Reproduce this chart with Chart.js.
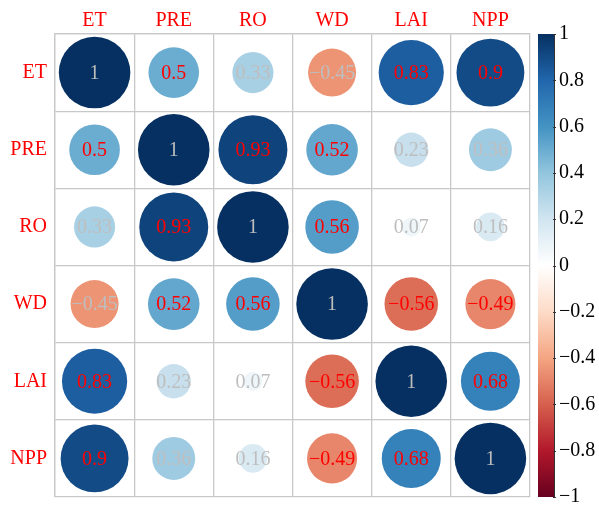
<!DOCTYPE html>
<html lang="en">
<head>
  <meta charset="UTF-8">
  <title>Correlation matrix</title>
  <style>
    body { margin: 0; padding: 0; background: #fff; }
    #wrap { width: 599px; height: 517px; }
  </style>
</head>
<body>
  <div id="wrap"><canvas id="corrChart"></canvas></div>

  <script src="https://cdn.jsdelivr.net/npm/chart.js"></script>
  <script>
    // variables and correlation rows
    const vars = ['ET', 'PRE', 'RO', 'WD', 'LAI', 'NPP'];
    const rowET  = [1, 0.5, 0.33, -0.45, 0.83, 0.9];
    const rowPRE = [0.5, 1, 0.93, 0.52, 0.23, 0.36];
    const rowRO  = [0.33, 0.93, 1, 0.56, 0.07, 0.16];
    const rowWD  = [-0.45, 0.52, 0.56, 1, -0.56, -0.49];
    const rowLAI = [0.83, 0.23, 0.07, -0.56, 1, 0.68];
    const rowNPP = [0.9, 0.36, 0.16, -0.49, 0.68, 1];
    const rows = [rowET, rowPRE, rowRO, rowWD, rowLAI, rowNPP];

    // colour bar ticks
    const barTicks = [-1, -0.8, -0.6, -0.4, -0.2, 0, 0.2, 0.4, 0.6, 0.8, 1];

    // RdBu palette, -1 .. 1
    const palette = ['#67001F', '#B2182B', '#D6604D', '#F4A582', '#FDDBC7', '#FFFFFF',
                     '#D1E5F0', '#92C5DE', '#4393C3', '#2166AC', '#053061'];

    const serif = "'Liberation Serif', 'Times New Roman', serif";

    function hexToRgb(h) {
      return [parseInt(h.substr(1, 2), 16), parseInt(h.substr(3, 2), 16), parseInt(h.substr(5, 2), 16)];
    }

    function colorFor(v) {
      const pos = (v + 1) / 2 * (palette.length - 1);
      const i = Math.min(Math.floor(pos), palette.length - 2);
      const t = pos - i;
      const a = hexToRgb(palette[i]);
      const b = hexToRgb(palette[i + 1]);
      const c = a.map((x, k) => Math.round(x + (b[k] - x) * t));
      return `rgb(${c[0]},${c[1]},${c[2]})`;
    }

    function fmt(v) {
      const s = String(Number(v.toFixed(2)));
      return s.replace('-', '\u2212');
    }

    // build points, one per cell
    const points = [];
    rows.forEach((row, i) => {
      row.forEach((v, j) => {
        points.push({ x: vars[j], y: vars[i], v: v });
      });
    });

    // numbers inside the circles
    const numberLabels = {
      id: 'numberLabels',
      afterDatasetsDraw(chart) {
        const ctx = chart.ctx;
        const meta = chart.getDatasetMeta(0);
        ctx.save();
        ctx.font = `20px ${serif}`;
        ctx.textAlign = 'center';
        ctx.textBaseline = 'middle';
        meta.data.forEach((el, k) => {
          const v = points[k].v;
          const a = Math.abs(v);
          ctx.fillStyle = (a >= 0.47 && a < 1) ? '#FF0000' : '#BEBEBE';
          ctx.fillText(fmt(v), el.x, el.y + 1);
        });
        ctx.restore();
      }
    };

    // gradient colour bar along the right axis
    const colorBar = {
      id: 'colorBar',
      afterDraw(chart) {
        const ctx = chart.ctx;
        const sc = chart.scales.bar;
        const x0 = chart.chartArea.right + 8;
        const w = 16;
        const top = sc.getPixelForValue(1);
        const bottom = sc.getPixelForValue(-1);
        const grad = ctx.createLinearGradient(0, bottom, 0, top);
        palette.forEach((c, k) => grad.addColorStop(k / (palette.length - 1), c));
        ctx.save();
        ctx.fillStyle = grad;
        ctx.fillRect(x0, top, w, bottom - top);
        ctx.strokeStyle = '#333';
        ctx.lineWidth = 1;
        ctx.beginPath();
        ctx.moveTo(x0 + w + 0.5, top);
        ctx.lineTo(x0 + w + 0.5, bottom);
        barTicks.forEach(t => {
          const y = Math.round(sc.getPixelForValue(t)) + 0.5;
          ctx.moveTo(x0 + w - 1, y);
          ctx.lineTo(x0 + w + 2, y);
        });
        ctx.stroke();
        ctx.restore();
      }
    };

    new Chart(document.getElementById('corrChart'), {
      type: 'scatter',
      data: {
        datasets: [{
          data: points,
          clip: false,
          showLine: false,
          pointBorderWidth: 0,
          pointBackgroundColor: c => colorFor(c.raw.v),
          pointRadius: c => {
            const area = c.chart.chartArea;
            if (!area) return 0;
            const cell = (area.right - area.left) / vars.length;
            return 0.452 * cell * Math.sqrt(Math.abs(c.raw.v));
          }
        }]
      },
      options: {
        responsive: true,
        maintainAspectRatio: false,
        animation: false,
        events: [],
        layout: { padding: { top: 0, left: 0, right: 0, bottom: 9 } },
        plugins: {
          legend: { display: false },
          tooltip: { enabled: false }
        },
        scales: {
          x: {
            type: 'category',
            labels: vars,
            position: 'top',
            offset: true,
            grid: { offset: true, color: '#C8C8C8', lineWidth: 1.3, drawTicks: false },
            border: { color: '#C8C8C8', width: 1.3 },
            ticks: { color: '#FF0000', font: { family: serif, size: 20 }, padding: 1 },
            afterFit: s => { s.height = 34; }
          },
          y: {
            type: 'category',
            labels: vars,
            position: 'left',
            offset: true,
            grid: { offset: true, color: '#C8C8C8', lineWidth: 1.3, drawTicks: false },
            border: { color: '#C8C8C8', width: 1.3 },
            ticks: { color: '#FF0000', font: { family: serif, size: 20 }, padding: 8 },
            afterFit: s => { s.width = 55; }
          },
          bar: {
            type: 'linear',
            position: 'right',
            min: -1,
            max: 1,
            grid: { display: false, drawTicks: false },
            border: { display: false },
            afterBuildTicks: s => { s.ticks = barTicks.map(v => ({ value: v })); },
            ticks: {
              color: '#000',
              font: { family: serif, size: 20 },
              padding: 29,
              callback: v => fmt(v)
            },
            afterFit: s => { s.width = 69; s.paddingTop = 0; s.paddingBottom = 0; }
          }
        }
      },
      plugins: [numberLabels, colorBar]
    });
  </script>
</body>
</html>
